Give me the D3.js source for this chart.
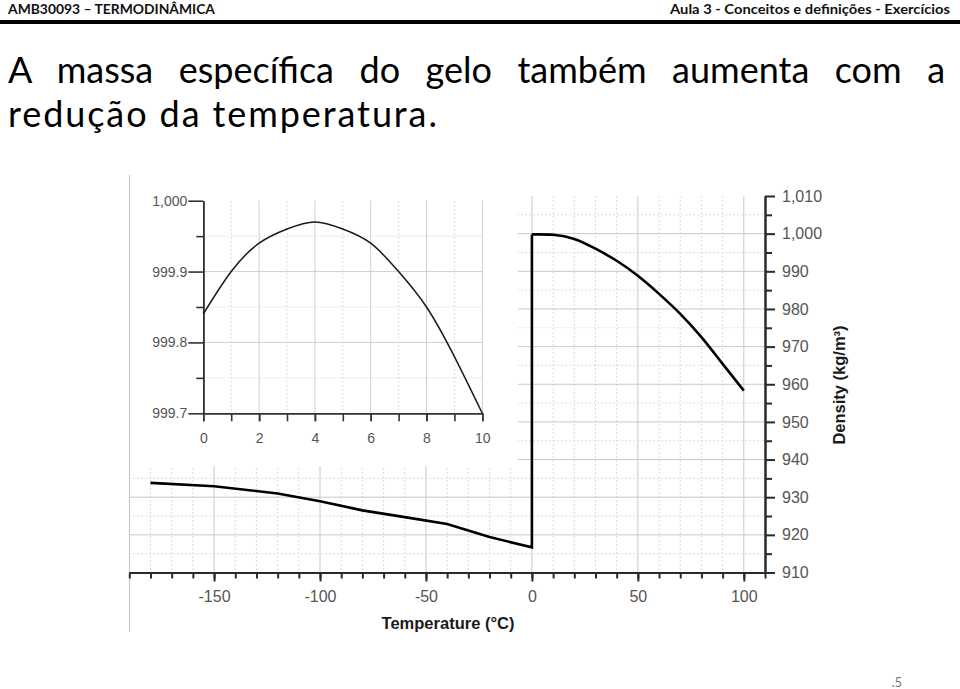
<!DOCTYPE html>
<html>
<head>
<meta charset="utf-8">
<script src="https://cdn.jsdelivr.net/npm/d3@7"></script>
<style>
  html, body { margin: 0; padding: 0; background: #fff; }
  svg { display: block; }
</style>
</head>
<body>
<svg id="chart" width="960" height="689"></svg>
<script>
// ---------- data ----------
const headerLeft = "AMB30093 – TERMODINÂMICA";
const headerRight = "Aula 3 - Conceitos e definições - Exercícios";
const titleLines = ["A massa específica do gelo também aumenta com a", "redução da temperatura."];
const pageNumber = ".5";

const iceTemps = [-180, -150, -120, -100, -80, -60, -40, -20, 0];
const iceDensity = [933.8, 932.9, 931.0, 928.9, 926.5, 924.7, 922.9, 919.4, 916.7];

const waterTemps = [0, 10, 20, 30, 40, 50, 60, 70, 80, 90, 100];
const waterDensity = [999.8, 999.7, 998.6, 996.0, 992.8, 988.8, 984.0, 978.7, 972.5, 965.4, 958.3];

const insetTemps = [0, 1, 2, 3, 4, 5, 6, 7, 8, 9, 10];
const insetDensity = [999.84, 999.90, 999.94, 999.96, 999.97, 999.96, 999.94, 999.90, 999.85, 999.78, 999.70];

const xTickLabels = [-150, -100, -50, 0, 50, 100];
const yTickLabels = [910, 920, 930, 940, 950, 960, 970, 980, 990, 1000, 1010];
const insetXTickLabels = [0, 2, 4, 6, 8, 10];
const insetYTickLabels = [999.7, 999.8, 999.9, 1000];

const xTitle = "Temperature (°C)";
const yTitle = "Density (kg/m³)";

// ---------- setup ----------
const svg = d3.select("#chart");
const labelColor = "#555";
const axisColor = "#2a2a2a";

// header
svg.append("text").attr("x", 8).attr("y", 13.5)
  .attr("font-family", "Lato, 'Open Sans', sans-serif").attr("font-weight", 700)
  .attr("font-size", 13.5).attr("fill", "#111")
  .attr("textLength", 207).attr("lengthAdjust", "spacingAndGlyphs")
  .text(headerLeft);
svg.append("text").attr("x", 950).attr("y", 13.5).attr("text-anchor", "end")
  .attr("font-family", "Lato, 'Open Sans', sans-serif").attr("font-weight", 700)
  .attr("font-size", 13.5).attr("fill", "#111")
  .attr("textLength", 280).attr("lengthAdjust", "spacingAndGlyphs")
  .text(headerRight);
svg.append("rect").attr("x", 0).attr("y", 20).attr("width", 960).attr("height", 4).attr("fill", "#000");

// title (one text element, two lines)
const titleFont = "Lato, 'Open Sans', sans-serif";
const title = svg.append("text")
  .attr("font-family", titleFont).attr("font-size", 36).attr("fill", "#000");
const s1 = title.append("tspan").attr("x", 8).attr("y", 83).text(titleLines[0]);
const s2 = title.append("tspan").attr("x", 8).attr("y", 127).text(titleLines[1]);
const w1 = s1.node().getComputedTextLength();
const spaces1 = (titleLines[0].match(/ /g) || []).length;
s1.attr("word-spacing", ((937 - w1) / spaces1).toFixed(2));
const w2 = s2.node().getComputedTextLength();
s2.attr("letter-spacing", ((429 - w2) / (titleLines[1].length - 1)).toFixed(2));

// ---------- main chart ----------
const x = d3.scaleLinear().domain([-190, 110]).range([129.3, 765]);
const y = d3.scaleLinear().domain([910, 1010]).range([572.5, 196]);

const grid = svg.append("g");
d3.range(-180, 101, 10).forEach(v => {
  const major = v % 50 === 0;
  grid.append("line")
    .attr("x1", x(v)).attr("x2", x(v)).attr("y1", y(1010)).attr("y2", y(910))
    .attr("stroke", major ? "#c9c9c9" : "#dcdcdc")
    .attr("stroke-width", 1)
    .attr("stroke-dasharray", major ? null : "2,2");
});
d3.range(915, 1006, 5).forEach(v => {
  const major = v % 10 === 0;
  grid.append("line")
    .attr("x1", x(-190)).attr("x2", x(110)).attr("y1", y(v)).attr("y2", y(v))
    .attr("stroke", major ? "#c9c9c9" : "#dcdcdc")
    .attr("stroke-width", 1)
    .attr("stroke-dasharray", major ? null : "2,2");
});

// white area behind the inset
svg.append("rect").attr("x", 130).attr("y", 150).attr("width", 388).attr("height", 316).attr("fill", "#fff");

// left image border
svg.append("line").attr("x1", 129.5).attr("x2", 129.5).attr("y1", 175).attr("y2", 632)
  .attr("stroke", "#c4c4c4").attr("stroke-width", 1);

// bottom axis
const xMinor = svg.append("g").attr("transform", `translate(0,${y(910)})`)
  .call(d3.axisBottom(x).tickValues(d3.range(-190, 111, 10)).tickSize(6).tickSizeOuter(0).tickFormat(""));
const xMajor = svg.append("g").attr("transform", `translate(0,${y(910)})`)
  .call(d3.axisBottom(x).tickValues(xTickLabels).tickSize(9).tickPadding(9).tickSizeOuter(0).tickFormat(d => d));
[xMinor, xMajor].forEach(g => {
  g.selectAll("path").attr("stroke", axisColor).attr("stroke-width", 2);
  g.selectAll("line").attr("stroke", axisColor).attr("stroke-width", 2);
  g.selectAll("text").attr("font-family", "'Liberation Sans', Arial, sans-serif").attr("font-size", 16).attr("fill", labelColor);
});

// right axis
const yMinor = svg.append("g").attr("transform", `translate(${x(110)},0)`)
  .call(d3.axisRight(y).tickValues(d3.range(915, 1010, 10)).tickSize(7).tickSizeOuter(0).tickFormat(""));
const yMajor = svg.append("g").attr("transform", `translate(${x(110)},0)`)
  .call(d3.axisRight(y).tickValues(yTickLabels).tickSize(10).tickPadding(7).tickSizeOuter(0).tickFormat(d3.format(",")));
[yMinor, yMajor].forEach(g => {
  g.selectAll("path").attr("stroke", axisColor).attr("stroke-width", 2);
  g.selectAll("line").attr("stroke", axisColor).attr("stroke-width", 2);
  g.selectAll("text").attr("font-family", "'Liberation Sans', Arial, sans-serif").attr("font-size", 16).attr("fill", labelColor);
});

// axis titles
svg.append("text").attr("x", 448).attr("y", 629).attr("text-anchor", "middle")
  .attr("font-family", "'Liberation Sans', Arial, sans-serif").attr("font-weight", 700)
  .attr("font-size", 16.5).attr("fill", "#1a1a1a").text(xTitle);
svg.append("text").attr("transform", "translate(845,385) rotate(-90)").attr("text-anchor", "middle")
  .attr("font-family", "'Liberation Sans', Arial, sans-serif").attr("font-weight", 700)
  .attr("font-size", 16.5).attr("fill", "#1a1a1a").text(yTitle);

// data: ice + jump, then water
const icePts = iceTemps.map((t, i) => [t, iceDensity[i]]);
icePts.push([waterTemps[0], waterDensity[0]]);
const lineLin = d3.line().x(d => x(d[0])).y(d => y(d[1]));
svg.append("path").attr("d", lineLin(icePts)).attr("fill", "none")
  .attr("stroke", "#000").attr("stroke-width", 2.6).attr("stroke-linejoin", "miter");
const lineSmooth = d3.line().x(d => x(d[0])).y(d => y(d[1])).curve(d3.curveNatural);
svg.append("path").attr("d", lineSmooth(waterTemps.map((t, i) => [t, waterDensity[i]]))).attr("fill", "none")
  .attr("stroke", "#000").attr("stroke-width", 2.6);

// ---------- inset ----------
const xi = d3.scaleLinear().domain([0, 10]).range([203.3, 482.3]);
const yi = d3.scaleLinear().domain([999.7, 1000]).range([413.3, 200.7]);
const ig = svg.append("g");
d3.range(1, 11, 1).forEach(v => {
  const major = v % 2 === 0;
  ig.append("line").attr("x1", xi(v)).attr("x2", xi(v)).attr("y1", yi(1000)).attr("y2", yi(999.7))
    .attr("stroke", major ? "#cfcfcf" : "#dedede").attr("stroke-width", 1)
    .attr("stroke-dasharray", major ? null : "2,2");
});
[999.75, 999.8, 999.85, 999.9, 999.95].forEach(v => {
  const major = Math.abs((v * 10) - Math.round(v * 10)) < 1e-6;
  ig.append("line").attr("x1", xi(0)).attr("x2", xi(10)).attr("y1", yi(v)).attr("y2", yi(v))
    .attr("stroke", major ? "#cfcfcf" : "#dedede").attr("stroke-width", 1)
    .attr("stroke-dasharray", major ? null : "2,2");
});
const iyMinor = ig.append("g").attr("transform", `translate(${xi(0)},0)`)
  .call(d3.axisLeft(yi).tickValues([999.75, 999.85, 999.95]).tickSize(7).tickSizeOuter(0).tickFormat(""));
const iyMajor = ig.append("g").attr("transform", `translate(${xi(0)},0)`)
  .call(d3.axisLeft(yi).tickValues(insetYTickLabels).tickSize(15).tickPadding(1).tickSizeOuter(0)
    .tickFormat(d => d >= 1000 ? d3.format(",")(d) : d3.format(".1f")(d)));
const ixMinor = ig.append("g").attr("transform", `translate(0,${yi(999.7)})`)
  .call(d3.axisBottom(xi).tickValues(insetTemps).tickSize(8).tickSizeOuter(0).tickFormat(""));
const ixMajor = ig.append("g").attr("transform", `translate(0,${yi(999.7)})`)
  .call(d3.axisBottom(xi).tickValues(insetXTickLabels).tickSize(8).tickPadding(12).tickSizeOuter(0).tickFormat(d => d));
[iyMinor, iyMajor, ixMinor, ixMajor].forEach(g => {
  g.selectAll("path").attr("stroke", "#333").attr("stroke-width", 1.6);
  g.selectAll("line").attr("stroke", "#333").attr("stroke-width", 1.6);
  g.selectAll("text").attr("font-family", "'Liberation Sans', Arial, sans-serif").attr("font-size", 14).attr("fill", labelColor);
});
ig.append("path")
  .attr("d", d3.line().x(d => xi(d[0])).y(d => yi(d[1])).curve(d3.curveNatural)(insetTemps.map((t, i) => [t, insetDensity[i]])))
  .attr("fill", "none").attr("stroke", "#1a1a1a").attr("stroke-width", 1.5);

// page number
svg.append("text").attr("x", 902).attr("y", 687).attr("text-anchor", "end")
  .attr("font-family", "Lato, 'Open Sans', sans-serif").attr("font-size", 13).attr("fill", "#777")
  .text(pageNumber);
</script>
</body>
</html>
